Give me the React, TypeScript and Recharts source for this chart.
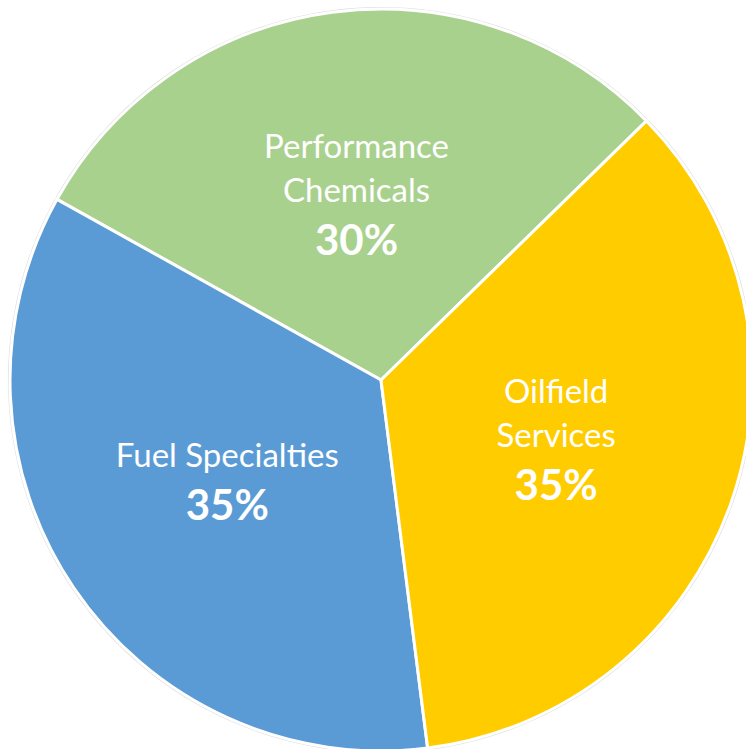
import { PieChart, Pie, Cell } from 'recharts';

const segments = ['Performance Chemicals', 'Fuel Specialties', 'Oilfield Services'];
// slice sizes; the labels show them rounded
const shares = [29.6, 35.1, 35.3];
const labelLines = [['Performance', 'Chemicals'], ['Fuel Specialties'], ['Oilfield', 'Services']];
const colors = ['#A9D18E', '#5B9BD5', '#FFCC00'];

const data = segments.map((name, i) => ({ name, value: shares[i], lines: labelLines[i] }));

const RAD = Math.PI / 180;

// Lines of the segment name, then the bold percentage underneath.
function renderLabel(props: any) {
  const { cx, cy, midAngle, outerRadius, index, percent } = props;
  const r = outerRadius * 0.5;
  const x = cx + r * Math.cos(-midAngle * RAD);
  const y = cy + r * Math.sin(-midAngle * RAD);
  const lines: string[] = data[index].lines;
  const lineGap = 44;
  const pctGap = 53;
  const blockH = (lines.length - 1) * lineGap + pctGap;
  const top = y - blockH / 2 + 10;

  return (
    <text x={x} y={top} fill="#fff" textAnchor="middle" fontFamily="Lato, 'Noto Sans', sans-serif">
      {lines.map((l, i) => (
        <tspan key={i} x={x} y={top + i * lineGap} fontSize={33}>
          {l}
        </tspan>
      ))}
      <tspan x={x} y={top + (lines.length - 1) * lineGap + pctGap} fontSize={42} fontWeight="bold">
        {`${Math.round(percent * 100)}%`}
      </tspan>
    </text>
  );
}

export default function App() {
  return (
    <div style={{ position: 'absolute', left: 0, top: 0, width: 746, height: 749, background: '#fff' }}>
      <PieChart width={746} height={749} margin={{ top: 0, right: 0, bottom: 0, left: 0 }}>
        <Pie
          data={[{ v: 1 }]}
          dataKey="v"
          cx={381}
          cy={380}
          innerRadius={371}
          outerRadius={373}
          fill="#dcdcdc"
          stroke="none"
          isAnimationActive={false}
        />
        <Pie
          data={data}
          dataKey="value"
          cx={381}
          cy={380}
          outerRadius={371}
          startAngle={44.3}
          endAngle={404.3}
          stroke="#fff"
          strokeWidth={3}
          labelLine={false}
          label={renderLabel}
          isAnimationActive={false}
        >
          {data.map((d, i) => (
            <Cell key={d.name} fill={colors[i]} />
          ))}
        </Pie>
      </PieChart>
    </div>
  );
}
